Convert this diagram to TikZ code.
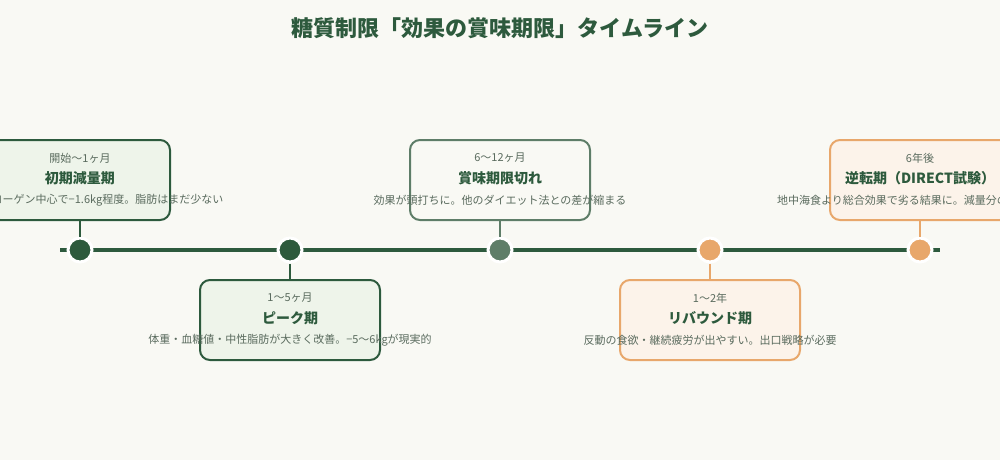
\documentclass[tikz,border=0pt]{standalone}
\usepackage{fontspec}
\setmainfont{Noto Sans CJK JP}
\usepackage{tikz}
\usetikzlibrary{positioning,calc}
\definecolor{bgcream}{HTML}{F9F9F4}
\definecolor{darkgreen}{HTML}{2D5A3D}
\definecolor{midgreen}{HTML}{5E7D68}
\definecolor{softorange}{HTML}{E8A76B}
\definecolor{greenfill}{HTML}{EEF4EA}
\definecolor{orangefill}{HTML}{FCF3EA}
\definecolor{textgray}{HTML}{5A6B5E}

\begin{document}
\begin{tikzpicture}[
    x=0.75pt, y=-0.75pt,
    phase/.style={rectangle, draw=#1, line width=1.5pt, rounded corners=7.5pt, minimum width=135pt, minimum height=60pt, inner sep=0pt},
    when/.style={font=\fontsize{8.25}{10}\selectfont, text=textgray},
    label/.style={font=\fontsize{10.5}{12}\selectfont\bfseries, text=darkgreen},
    detail/.style={font=\fontsize{8.25}{10}\selectfont, text=textgray},
    dot/.style={circle, fill=#1, draw=white, line width=2.25pt, minimum size=18pt, inner sep=0pt},
    stem/.style={line width=1.5pt, draw=#1},
]
    % background and canvas
    \fill[bgcream] (0,0) rectangle (1000,460);
    \useasboundingbox (0,0) rectangle (1000,460);

    % Title
    \node[font=\fontsize{16.5}{20}\selectfont\bfseries, text=darkgreen] (title) at (500,28) {糖質制限「効果の賞味期限」タイムライン};

    % Timeline axis
    \coordinate (axis-start) at (60,250);
    \coordinate (axis-end) at (940,250);
    \draw[line width=3pt, darkgreen] (axis-start) -- (axis-end);

    % Phase 1
    \node[phase=darkgreen, fill=greenfill] (p1) at (80,180) {};
    \node[when] (p1-when) at (80,158) {開始〜1ヶ月};
    \node[label] (p1-label) at (80,178) {初期減量期};
    \node[detail] (p1-detail) at (80,200) {水分・グリコーゲン中心で−1.6kg程度。脂肪はまだ少ない};
    \node[dot=darkgreen] (d1) at (80,250) {};

    % Phase 2
    \node[phase=darkgreen, fill=greenfill] (p2) at (290,320) {};
    \node[when] (p2-when) at (290,298) {1〜5ヶ月};
    \node[label] (p2-label) at (290,318) {ピーク期};
    \node[detail] (p2-detail) at (290,340) {体重・血糖値・中性脂肪が大きく改善。−5〜6kgが現実的};
    \node[dot=darkgreen] (d2) at (290,250) {};

    % Phase 3
    \node[phase=midgreen, fill=bgcream] (p3) at (500,180) {};
    \node[when] (p3-when) at (500,158) {6〜12ヶ月};
    \node[label] (p3-label) at (500,178) {賞味期限切れ};
    \node[detail] (p3-detail) at (500,200) {効果が頭打ちに。他のダイエット法との差が縮まる};
    \node[dot=midgreen] (d3) at (500,250) {};

    % Phase 4
    \node[phase=softorange, fill=orangefill] (p4) at (710,320) {};
    \node[when] (p4-when) at (710,298) {1〜2年};
    \node[label] (p4-label) at (710,318) {リバウンド期};
    \node[detail] (p4-detail) at (710,340) {反動の食欲・継続疲労が出やすい。出口戦略が必要};
    \node[dot=softorange] (d4) at (710,250) {};

    % Phase 5
    \node[phase=softorange, fill=orangefill] (p5) at (920,180) {};
    \node[when] (p5-when) at (920,158) {6年後};
    \node[label] (p5-label) at (920,178) {逆転期（DIRECT試験）};
    \node[detail] (p5-detail) at (920,200) {地中海食より総合効果で劣る結果に。減量分の維持が課題};
    \node[dot=softorange] (d5) at (920,250) {};

    % Stems
    \draw[stem=darkgreen] (p1.south) -- (d1.north);
    \draw[stem=darkgreen] (d2.south) -- (p2.north);
    \draw[stem=midgreen] (p3.south) -- (d3.north);
    \draw[stem=softorange] (d4.south) -- (p4.north);
    \draw[stem=softorange] (p5.south) -- (d5.north);
\end{tikzpicture}
\end{document}
